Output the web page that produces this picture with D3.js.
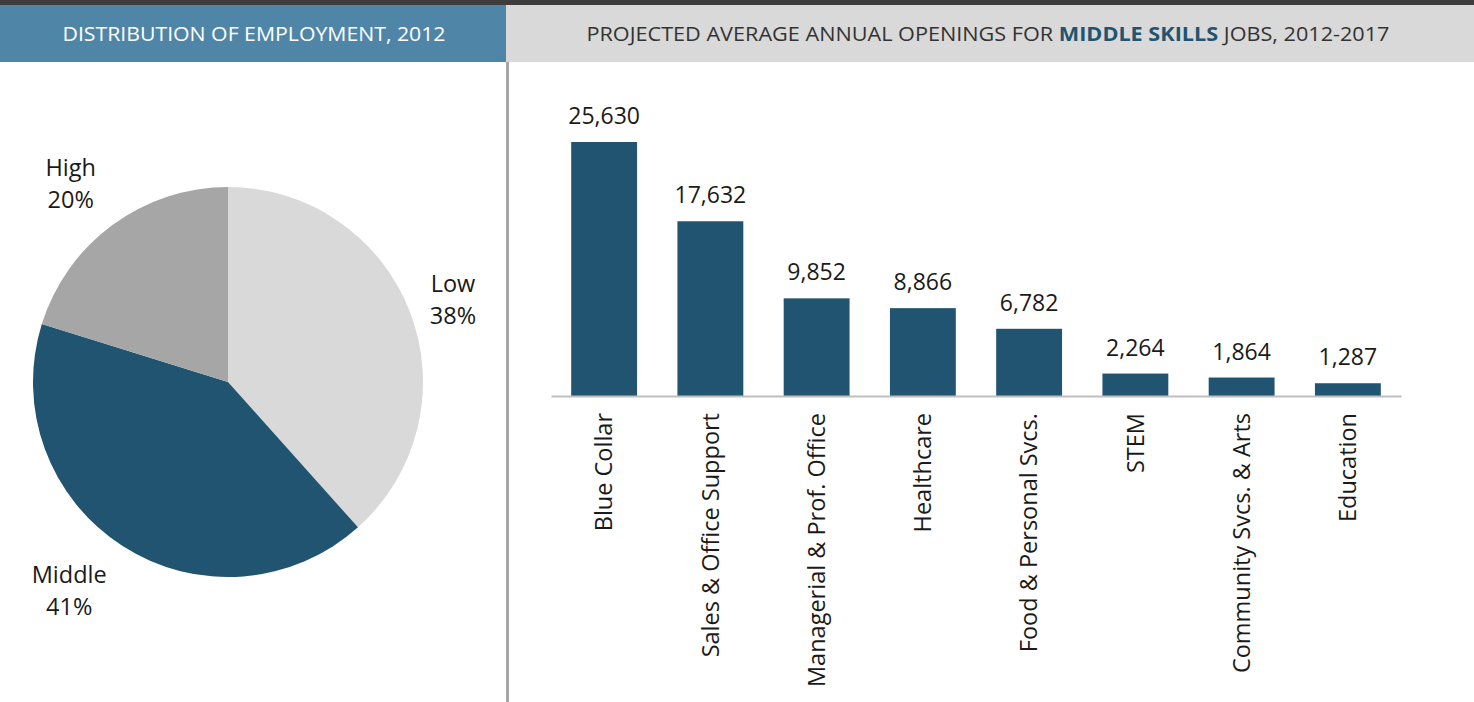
<!DOCTYPE html>
<html lang="en">
<head>
    <meta charset="UTF-8">
    <title>Middle Skills Jobs</title>
    <script src="https://d3js.org/d3.v7.min.js"></script>
    <style>
        body {
            margin: 0;
            background: #fff;
            font-family: "Open Sans", Arial, sans-serif;
        }
        svg text {
            fill: #1a1a1a;
        }
    </style>
</head>
<body>
    <div id="chart"></div>

    <script>
        // Pie data: distribution of employment, 2012
        const pieLabels = ["Low", "Middle", "High"];
        const pieValues = [38, 41, 20];
        const pieColors = ["#d9d9d9", "#215470", "#a6a6a6"];

        // Bar data: projected average annual openings, 2012-2017
        const categories = [
            "Blue Collar", "Sales & Office Support", "Managerial & Prof. Office",
            "Healthcare", "Food & Personal Svcs.", "STEM",
            "Community Svcs. & Arts", "Education"
        ];
        const openings = [25630, 17632, 9852, 8866, 6782, 2264, 1864, 1287];

        const width = 1474, height = 702;
        const svg = d3.select("#chart").append("svg")
            .attr("width", width)
            .attr("height", height);

        // Header strips
        svg.append("rect").attr("x", 0).attr("y", 0).attr("width", width).attr("height", 5).attr("fill", "#3d3d3d");
        svg.append("rect").attr("x", 0).attr("y", 5).attr("width", 506).attr("height", 57).attr("fill", "#4f86a8");
        svg.append("rect").attr("x", 506).attr("y", 5).attr("width", width - 506).attr("height", 57).attr("fill", "#d9d9d9");

        svg.append("text")
            .attr("x", 254).attr("y", 41)
            .attr("text-anchor", "middle")
            .style("font-size", "20px")
            .style("fill", "#ffffff")
            .attr("textLength", 383)
            .attr("lengthAdjust", "spacingAndGlyphs")
            .text("DISTRIBUTION OF EMPLOYMENT, 2012");

        const rightTitle = svg.append("text")
            .attr("x", 988).attr("y", 41)
            .attr("text-anchor", "middle")
            .style("font-size", "20px")
            .style("fill", "#333")
            .attr("textLength", 803)
            .attr("lengthAdjust", "spacingAndGlyphs");
        rightTitle.append("tspan").text("PROJECTED AVERAGE ANNUAL OPENINGS FOR ");
        rightTitle.append("tspan").style("font-weight", "bold").style("fill", "#215470").text("MIDDLE SKILLS");
        rightTitle.append("tspan").text(" JOBS, 2012-2017");

        // Divider
        svg.append("rect").attr("x", 506).attr("y", 62).attr("width", 3).attr("height", height - 62).attr("fill", "#a6a6a6");

        // Pie chart
        const cx = 228, cy = 382, r = 195;
        const labelRadius = [1.23, 1.34, 1.30];
        const labelNudge = [0.6, 4.7, -2];   // degrees
        const pie = d3.pie().sort(null).value(d => d);
        const arcs = pie(pieValues);
        const arc = d3.arc().innerRadius(0).outerRadius(r);

        const pieG = svg.append("g").attr("transform", `translate(${cx},${cy})`);
        pieG.selectAll("path")
            .data(arcs)
            .join("path")
            .attr("d", arc)
            .attr("fill", (d, i) => pieColors[i]);

        // labels sit outside the pie, along each slice's middle angle
        const pieLabelG = pieG.selectAll("g.lbl")
            .data(arcs)
            .join("g")
            .attr("class", "lbl")
            .attr("transform", (d, i) => {
                const a = (d.startAngle + d.endAngle) / 2 + labelNudge[i] * Math.PI / 180;
                const rr = r * labelRadius[i];
                return `translate(${Math.sin(a) * rr},${-Math.cos(a) * rr})`;
            });
        pieLabelG.append("text")
            .attr("text-anchor", "middle")
            .attr("y", -7)
            .style("font-size", "23.5px")
            .text((d, i) => pieLabels[i]);
        pieLabelG.append("text")
            .attr("text-anchor", "middle")
            .attr("y", 25)
            .style("font-size", "23.5px")
            .text((d, i) => pieValues[i] + "%");

        // Bar chart
        const baseY = 396;
        const x = d3.scaleBand()
            .domain(categories)
            .range([551, 1401])
            .paddingInner(0.38)
            .paddingOuter(0.19);

        const y = d3.scaleLinear()
            .domain([0, 25630])
            .range([baseY, 142]);

        svg.append("g")
            .selectAll("rect")
            .data(openings)
            .join("rect")
            .attr("x", (d, i) => x(categories[i]))
            .attr("y", d => y(d))
            .attr("width", x.bandwidth())
            .attr("height", d => baseY - y(d))
            .attr("fill", "#215470");

        svg.append("g")
            .selectAll("text")
            .data(openings)
            .join("text")
            .attr("x", (d, i) => x(categories[i]) + x.bandwidth() / 2)
            .attr("y", d => y(d) - 18)
            .attr("text-anchor", "middle")
            .style("font-size", "23px")
            .text(d => d3.format(",")(d));

        const xAxis = svg.append("g")
            .attr("transform", `translate(0,${baseY})`)
            .call(d3.axisBottom(x).tickSize(0).tickPadding(0));
        xAxis.select(".domain").attr("stroke", "#bfbfbf").attr("stroke-width", 2);
        xAxis.selectAll(".tick text")
            .attr("transform", "rotate(-90)")
            .attr("text-anchor", "end")
            .attr("x", -17)
            .attr("y", 0)
            .attr("dy", "0.35em")
            .style("font-family", "\"Open Sans\", Arial, sans-serif")
            .style("font-size", "23.5px")
            .style("fill", "#1a1a1a");
    </script>
</body>
</html>
